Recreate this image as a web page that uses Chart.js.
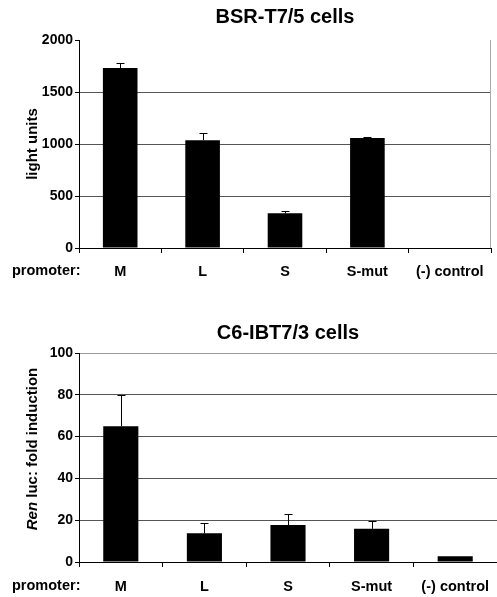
<!DOCTYPE html>
<html>
<head>
<meta charset="utf-8">
<script src="https://cdn.jsdelivr.net/npm/chart.js@4.4.1/dist/chart.umd.min.js"></script>
<style>
body { margin: 0; background: #fff; }
.box { position: absolute; left: 0; width: 497px; }
#top { top: 0; height: 300px; }
#bottom { top: 300px; height: 297px; }
</style>
</head>
<body>
<div class="box" id="top"><canvas id="chart1" width="497" height="300"></canvas></div>
<div class="box" id="bottom"><canvas id="chart2" width="497" height="297"></canvas></div>
<script>
const promoters = ['M', 'L', 'S', 'S-mut', '(-) control'];

const bsrValues = [1730, 1036, 334, 1058, 0];
const bsrErrors = [50, 70, 18, 12, 0];
const bsrTicks = [0, 500, 1000, 1500, 2000];

const c6Values = [65, 13.7, 17.7, 15.9, 2.7];
const c6Errors = [15, 4.8, 5.3, 3.5, 0];
const c6Ticks = [0, 20, 40, 60, 80, 100];

const FONT = "'Liberation Sans', Arial, sans-serif";

// error bars, "promoter:" label, right frame and the mixed-style y title
const extras = {
    id: 'extras',
    afterDatasetsDraw(chart, args, opts) {
        const ctx = chart.ctx;
        const y = chart.scales.y;
        const values = chart.data.datasets[0].data;
        ctx.save();
        ctx.strokeStyle = '#000';
        ctx.lineWidth = 1;
        chart.getDatasetMeta(0).data.forEach(function(bar, i) {
            const err = opts.errors[i];
            if (!err) return;
            const y0 = y.getPixelForValue(values[i]);
            const y1 = Math.round(y.getPixelForValue(values[i] + err)) + 0.5;
            const cx = Math.round(bar.x) + 0.5;
            ctx.beginPath();
            ctx.moveTo(cx, y0);
            ctx.lineTo(cx, y1);
            ctx.moveTo(cx - 4, y1);
            ctx.lineTo(cx + 4, y1);
            ctx.stroke();
        });
        ctx.restore();
    },
    afterDraw(chart, args, opts) {
        const ctx = chart.ctx;
        const area = chart.chartArea;
        ctx.save();
        if (opts.frame) {
            ctx.strokeStyle = '#aaa';
            ctx.beginPath();
            ctx.moveTo(Math.round(area.right) - 0.5, area.top);
            ctx.lineTo(Math.round(area.right) - 0.5, area.bottom);
            ctx.stroke();
        }
        ctx.fillStyle = '#000';
        ctx.font = 'bold 14.5px ' + FONT;
        ctx.textAlign = 'left';
        ctx.textBaseline = 'middle';
        ctx.fillText('promoter:', 12, area.bottom + opts.labelOffset);

        if (opts.yTitle) {
            ctx.translate(33, opts.yTitle.center);
            ctx.rotate(-Math.PI / 2);
            const f1 = 'italic bold 15px ' + FONT;
            const f2 = 'bold 15px ' + FONT;
            ctx.font = f1;
            const w1 = ctx.measureText(opts.yTitle.a).width;
            ctx.font = f2;
            const w2 = ctx.measureText(opts.yTitle.b).width;
            let x = -(w1 + w2) / 2;
            ctx.font = f1;
            ctx.fillText(opts.yTitle.a, x, 0);
            ctx.font = f2;
            ctx.fillText(opts.yTitle.b, x + w1, 0);
        }
        ctx.restore();
    }
};

function makeChart(id, values, errors, ticks, p) {
    return new Chart(document.getElementById(id), {
        type: 'bar',
        data: {
            labels: promoters,
            datasets: [{
                data: values,
                backgroundColor: '#000',
                borderWidth: 0,
                barPercentage: 0.42,
                categoryPercentage: 1.0
            }]
        },
        plugins: [extras],
        options: {
            responsive: false,
            animation: false,
            events: [],
            layout: { padding: { left: 0, right: p.right, top: 0, bottom: 0 } },
            scales: {
                x: {
                    offset: true,
                    border: { display: true, color: '#000', width: 1 },
                    grid: { offset: true, drawOnChartArea: false, drawTicks: true, tickLength: 5, tickColor: '#000' },
                    ticks: { color: '#000', padding: p.labelPad, font: { family: FONT, size: 14.5, weight: 'bold' }, maxRotation: 0, autoSkip: false },
                    afterFit: function(s) {
                        s.height = p.xHeight;
                        s.paddingLeft = 0;
                        s.paddingRight = 0;
                    }
                },
                y: {
                    min: ticks[0],
                    max: ticks[ticks.length - 1],
                    afterBuildTicks: function(s) { s.ticks = ticks.map(v => ({ value: v })); },
                    border: { display: true, color: '#000', width: 1 },
                    grid: {
                        color: function(c) {
                            if (c.tick.value === ticks[0]) return 'rgba(0,0,0,0)';
                            if (c.tick.value === ticks[ticks.length - 1]) return p.topGrid;
                            return '#555';
                        },
                        tickColor: '#000',
                        tickLength: 4,
                        lineWidth: 1
                    },
                    ticks: { color: '#000', padding: 2, font: { family: FONT, size: 14, weight: 'bold' }, callback: v => String(v) },
                    title: p.yTitle ? {
                        display: true, text: p.yTitle, color: '#000',
                        font: { family: FONT, size: 15, weight: 'bold' },
                        padding: { top: 24, bottom: 0 }
                    } : { display: false },
                    afterFit: function(s) { s.width = 79; }
                }
            },
            plugins: {
                legend: { display: false },
                tooltip: { enabled: false },
                title: {
                    display: true,
                    text: p.title,
                    fullSize: false,
                    color: '#000',
                    font: { family: FONT, size: 20, weight: 'bold' },
                    padding: p.titlePad
                },
                extras: { errors: errors, frame: p.frame, labelOffset: p.labelOffset, yTitle: p.customY }
            }
        }
    });
}

makeChart('chart1', bsrValues, bsrErrors, bsrTicks, {
    title: 'BSR-T7/5 cells',
    titlePad: { top: 5, bottom: 11 },
    right: 6,
    xHeight: 52,
    labelPad: 10,
    labelOffset: 23,
    topGrid: 'rgba(0,0,0,0)',
    frame: true,
    yTitle: 'light units',
    customY: null
});

makeChart('chart2', c6Values, c6Errors, c6Ticks, {
    title: 'C6-IBT7/3 cells',
    titlePad: { top: 21, bottom: 8 },
    right: 0,
    xHeight: 35,
    labelPad: 11,
    labelOffset: 24,
    topGrid: '#999',
    frame: false,
    yTitle: null,
    customY: { a: 'Ren', b: ' luc: fold induction', center: 149 }
});
</script>
</body>
</html>
